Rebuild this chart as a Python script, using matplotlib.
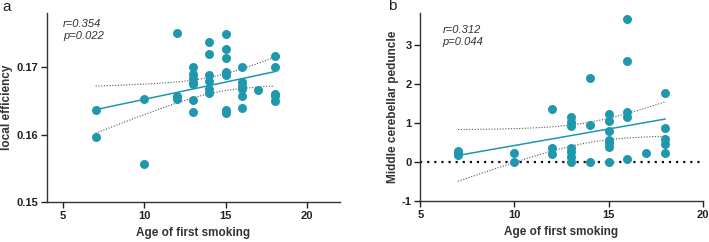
import numpy as np
import matplotlib.pyplot as plt

plt.rcParams['font.family'] = ['Liberation Sans', 'DejaVu Sans']
plt.rcParams['axes.unicode_minus'] = False

# panel a: age of first smoking vs local efficiency
age_a = [7, 7, 10, 10, 12, 12, 12,
         13, 13, 13, 13, 13, 13, 13,
         14, 14, 14, 14, 14, 14,
         15, 15, 15, 15, 15, 15, 15,
         16, 16, 16, 16, 16, 16,
         17, 18, 18, 18, 18, 18]
eff_a = [0.1637, 0.1597, 0.1653, 0.1557, 0.1751, 0.1658, 0.1653,
         0.1701, 0.1690, 0.1684, 0.1678, 0.1675, 0.1652, 0.1633,
         0.1737, 0.1719, 0.1689, 0.1680, 0.1667, 0.1662,
         0.1750, 0.1727, 0.1714, 0.1693, 0.1689, 0.1637, 0.1632,
         0.1701, 0.1678, 0.1672, 0.1667, 0.1657, 0.1640,
         0.1666, 0.1716, 0.1700, 0.1660, 0.1657, 0.1650]

# panel b: age of first smoking vs middle cerebellar peduncle
age_b = [7, 7, 7, 10, 10, 12, 12, 12,
         13, 13, 13, 13, 13, 13, 13,
         14, 14, 14,
         15, 15, 15, 15, 15, 15, 15,
         16, 16, 16, 16, 16,
         17, 18, 18, 18, 18, 18]
mcp_b = [0.28, 0.22, 0.18, 0.24, 0.0, 1.35, 0.35, 0.20,
         1.15, 1.03, 0.92, 0.35, 0.26, 0.14, 0.0,
         2.15, 0.94, 0.0,
         1.23, 1.05, 0.79, 0.56, 0.49, 0.39, 0.0,
         3.66, 2.57, 1.28, 1.15, 0.07,
         0.22, 1.76, 0.86, 0.60, 0.47, 0.24]

TEAL = '#1f98ae'


def fit_with_ci(x, y, xs):
    x = np.asarray(x, float)
    y = np.asarray(y, float)
    n = len(x)
    slope, icpt = np.polyfit(x, y, 1)
    resid = y - (slope * x + icpt)
    s = np.sqrt(np.sum(resid ** 2) / (n - 2))
    se = s * np.sqrt(1 / n + (xs - x.mean()) ** 2 / np.sum((x - x.mean()) ** 2))
    t = 2.03
    yhat = slope * xs + icpt
    return yhat, yhat - t * se, yhat + t * se


def draw_panel(ax, x, y, xlim, ylim, yticks, ylabel, stats, stats_pos):
    xs = np.linspace(min(x), max(x), 50)
    yhat, lo, hi = fit_with_ci(x, y, xs)
    ax.scatter(x, y, s=42, color=TEAL, zorder=3, linewidths=0)
    ax.plot(xs, yhat, color=TEAL, lw=1.1, zorder=4)
    ax.plot(xs, lo, color='#555555', lw=0.8, ls=(0, (1, 1.5)), zorder=2)
    ax.plot(xs, hi, color='#555555', lw=0.8, ls=(0, (1, 1.5)), zorder=2)
    ax.set_xlim(*xlim)
    ax.set_ylim(*ylim)
    ax.set_xticks([5, 10, 15, 20])
    ax.set_yticks(yticks)
    for side in ['top', 'right']:
        ax.spines[side].set_visible(False)
    for side in ['left', 'bottom']:
        ax.spines[side].set_linewidth(1.0)
        ax.spines[side].set_color('#333333')
    ax.tick_params(direction='out', length=4, width=1, labelsize=8, colors='#222222', pad=2.5)
    for lab in ax.get_xticklabels() + ax.get_yticklabels():
        lab.set_fontweight('bold')
    ax.set_xlabel('Age of first smoking', fontsize=8.5, fontweight='bold', color='#333333', labelpad=4)
    ax.set_ylabel(ylabel, fontsize=8.5, fontweight='bold', color='#333333', labelpad=2)
    ax.text(stats_pos[0], stats_pos[1], stats, transform=ax.transAxes, fontsize=8, style='italic',
            color='#333333', va='top', linespacing=1.25)


fig = plt.figure(figsize=(7.09, 2.42), dpi=100)
ax1 = fig.add_axes([0.066, 0.165, 0.413, 0.78])
ax2 = fig.add_axes([0.593, 0.169, 0.398, 0.776])

draw_panel(ax1, age_a, eff_a, (4, 22), (0.15, 0.178), [0.15, 0.16, 0.17],
           'local efficiency', 'r=0.354\np=0.022', (0.055, 0.97))
ax1.set_yticklabels(['0.15', '0.16', '0.17'], fontweight='bold')

draw_panel(ax2, age_b, mcp_b, (5, 20), (-1, 3.8), [-1, 0, 1, 2, 3],
           'Middle cerebellar peduncle', 'r=0.312\np=0.044', (0.079, 0.94))
ax2.axhline(0, color='#111111', lw=1.6, ls=(0, (1, 2.2)), zorder=1)

fig.text(0.004, 0.955, 'a', fontsize=11, color='#222222')
fig.text(0.548, 0.96, 'b', fontsize=11, color='#222222')

fig.savefig('out.png', dpi=100)
